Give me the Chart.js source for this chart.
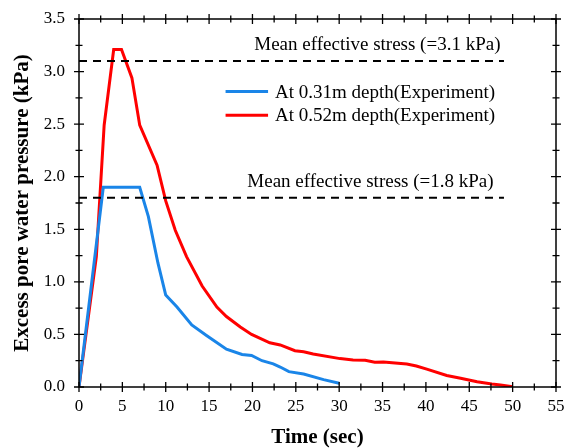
<!DOCTYPE html>
<html>
<head>
<meta charset="utf-8">
<script src="https://cdn.jsdelivr.net/npm/chart.js@4"></script>
<style>
  html, body { margin: 0; padding: 0; background: #fff; }
  #wrap { width: 566px; height: 448px; }
</style>
</head>
<body>
<div id="wrap"><canvas id="myChart" width="566" height="448"></canvas></div>
<script>
// data
const blueX = [0, 2.8, 7.0, 8.0, 9.1, 10.0, 11.3, 13.0, 14.7, 17.0, 18.8, 19.9, 21.1, 22.4, 23.2, 24.2, 25.9, 28.2, 30.0];
const blueY = [0, 1.90, 1.90, 1.62, 1.18, 0.875, 0.76, 0.59, 0.49, 0.36, 0.31, 0.30, 0.25, 0.22, 0.19, 0.146, 0.124, 0.07, 0.035];

const redX = [0, 2.0, 2.9, 4.0, 4.9, 6.1, 7.0, 9.0, 10.0, 11.1, 12.4, 14.2, 15.9, 17.0, 18.6, 19.9, 22.0, 23.2, 24.9, 25.9, 27.0, 30.1, 31.6, 33.0, 34.1, 35.1, 37.8, 38.9, 40.1, 42.4, 44.0, 45.9, 47.6, 48.6, 50.0];
const redY = [0, 1.24, 2.49, 3.21, 3.21, 2.94, 2.49, 2.11, 1.77, 1.49, 1.24, 0.96, 0.76, 0.67, 0.57, 0.50, 0.42, 0.40, 0.345, 0.336, 0.314, 0.27, 0.257, 0.254, 0.235, 0.238, 0.219, 0.20, 0.17, 0.11, 0.083, 0.05, 0.029, 0.02, 0.003];

const stressValues = [3.1, 1.8];
const stressLabels = ['Mean effective stress (=3.1 kPa)', 'Mean effective stress (=1.8 kPa)'];
const stressEndX = 49;

const seriesLabels = ['At 0.31m depth(Experiment)', 'At 0.52m depth(Experiment)'];
const seriesColors = ['#1a85e8', '#ff0000'];

const xTicks = [0, 5, 10, 15, 20, 25, 30, 35, 40, 45, 50, 55];
const yTicks = [0, 0.5, 1.0, 1.5, 2.0, 2.5, 3.0, 3.5];

const serif = "'Liberation Serif', 'Times New Roman', serif";

function toPoints(xs, ys) {
    const pts = [];
    for (let i = 0; i < xs.length; i++) {
        pts.push({ x: xs[i], y: ys[i] });
    }
    return pts;
}

// box, crossing ticks (major + minor) on all four sides
const frame = {
    id: 'frame',
    afterDatasetsDraw(chart) {
        const ctx = chart.ctx;
        const a = chart.chartArea;
        const xs = chart.scales.x, ys = chart.scales.y;
        ctx.save();
        ctx.strokeStyle = '#000';
        ctx.lineWidth = 1.5;
        ctx.strokeRect(a.left, a.top, a.right - a.left, a.bottom - a.top);
        ctx.lineWidth = 1.3;
        ctx.beginPath();
        for (let v = 0; v <= 55.001; v += 2.5) {
            const p = xs.getPixelForValue(v);
            const len = (Math.round(v * 10) % 50 === 0) ? 5 : 3.5;
            ctx.moveTo(p, a.bottom - len); ctx.lineTo(p, a.bottom + len);
            ctx.moveTo(p, a.top - len); ctx.lineTo(p, a.top + len);
        }
        for (let v = 0; v <= 3.5001; v += 0.25) {
            const p = ys.getPixelForValue(v);
            const len = (Math.round(v * 100) % 50 === 0) ? 5 : 3.5;
            ctx.moveTo(a.left - len, p); ctx.lineTo(a.left + len, p);
            ctx.moveTo(a.right - len, p); ctx.lineTo(a.right + len, p);
        }
        ctx.stroke();

        // annotations for the stress lines
        ctx.fillStyle = '#000';
        ctx.font = '19px ' + serif;
        ctx.textAlign = 'right';
        ctx.textBaseline = 'middle';
        ctx.fillText(stressLabels[0], xs.getPixelForValue(48.6), ys.getPixelForValue(3.25));
        ctx.fillText(stressLabels[1], xs.getPixelForValue(47.8), ys.getPixelForValue(1.95));

        // legend
        const ly = [2.81, 2.585];
        ctx.textAlign = 'left';
        ctx.lineWidth = 3;
        for (let i = 0; i < 2; i++) {
            const y = ys.getPixelForValue(ly[i]);
            ctx.strokeStyle = seriesColors[i];
            ctx.beginPath();
            ctx.moveTo(xs.getPixelForValue(16.9), y);
            ctx.lineTo(xs.getPixelForValue(21.8), y);
            ctx.stroke();
            ctx.fillText(seriesLabels[i], xs.getPixelForValue(22.6), y + 1);
        }
        ctx.restore();
    }
};

const ctx = document.getElementById('myChart').getContext('2d');
const myChart = new Chart(ctx, {
    type: 'scatter',
    data: {
        datasets: [{
            label: stressLabels[0],
            data: [{ x: 0, y: stressValues[0] }, { x: stressEndX, y: stressValues[0] }],
            showLine: true,
            borderColor: '#000',
            borderWidth: 2,
            borderDash: [8, 6],
            pointRadius: 0
        }, {
            label: stressLabels[1],
            data: [{ x: 0, y: stressValues[1] }, { x: stressEndX, y: stressValues[1] }],
            showLine: true,
            borderColor: '#000',
            borderWidth: 2,
            borderDash: [8, 6],
            pointRadius: 0
        }, {
            label: seriesLabels[0],
            data: toPoints(blueX, blueY),
            showLine: true,
            borderColor: seriesColors[0],
            borderWidth: 3,
            pointRadius: 0,
            tension: 0
        }, {
            label: seriesLabels[1],
            data: toPoints(redX, redY),
            showLine: true,
            borderColor: seriesColors[1],
            borderWidth: 3,
            pointRadius: 0,
            tension: 0
        }]
    },
    options: {
        responsive: false,
        animation: false,
        layout: { padding: { top: 19, right: 10, left: 0, bottom: 0 } },
        plugins: {
            legend: { display: false },
            tooltip: { enabled: false }
        },
        scales: {
            x: {
                type: 'linear',
                min: 0,
                max: 55,
                afterBuildTicks: (s) => { s.ticks = xTicks.map(v => ({ value: v })); },
                afterFit: (s) => { s.height = 61; },
                grid: { display: false, drawTicks: true, tickLength: 9 },
                border: { display: false },
                ticks: {
                    color: '#000',
                    padding: 0,
                    maxRotation: 0,
                    font: { family: serif, size: 17 }
                },
                title: {
                    display: true,
                    text: 'Time (sec)',
                    color: '#000',
                    padding: { top: 0, bottom: -2 },
                    font: { family: serif, size: 21, weight: 'bold' }
                }
            },
            y: {
                type: 'linear',
                min: 0,
                max: 3.5,
                afterBuildTicks: (s) => { s.ticks = yTicks.map(v => ({ value: v })); },
                afterFit: (s) => { s.width = 79; },
                grid: { display: false, drawTicks: true, tickLength: 14 },
                border: { display: false },
                ticks: {
                    color: '#000',
                    padding: 0,
                    font: { family: serif, size: 17 },
                    callback: (v) => Number(v).toFixed(1)
                },
                title: {
                    display: true,
                    text: 'Excess pore water pressure (kPa)',
                    color: '#000',
                    padding: { top: 10, bottom: 0 },
                    font: { family: serif, size: 21, weight: 'bold' }
                }
            }
        }
    },
    plugins: [frame]
});
</script>
</body>
</html>
